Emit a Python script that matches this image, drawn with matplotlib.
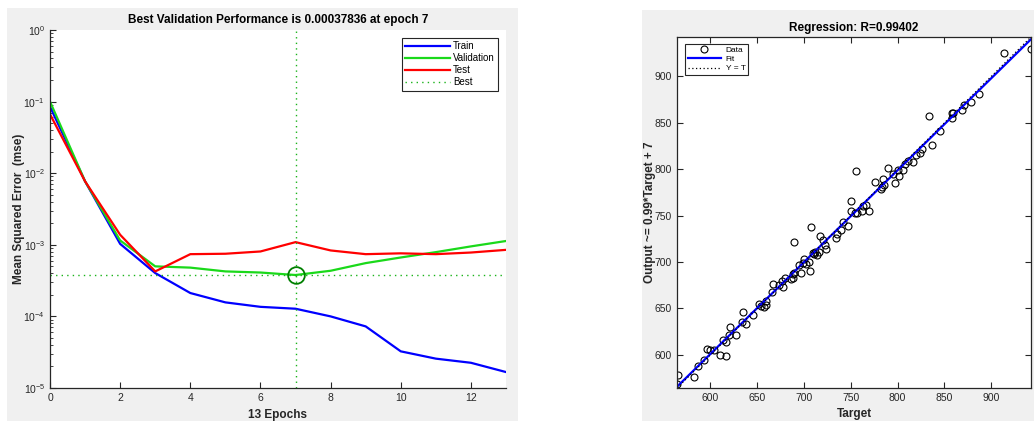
import numpy as np
import matplotlib
matplotlib.use("Agg")
import matplotlib.pyplot as plt
from matplotlib.patches import Rectangle
from matplotlib.ticker import LogLocator, NullFormatter

plt.rcParams['font.family'] = ['Liberation Sans', 'DejaVu Sans']
plt.rcParams['mathtext.fontset'] = 'custom'
plt.rcParams['mathtext.rm'] = 'Liberation Sans'

# ---------------- performance data ----------------
epochs = list(range(14))
train_mse = [0.085, 0.0077, 0.00103, 0.000403, 0.000212, 0.000157, 0.000136,
             0.000128, 0.0001, 7.25e-5, 3.25e-5, 2.57e-5, 2.25e-5, 1.67e-5]
val_mse = [0.1, 0.0077, 0.00115, 0.0005, 0.00048, 0.000425, 0.00041,
           0.00037836, 0.000434, 0.000555, 0.000665, 0.00079, 0.00095, 0.00113]
test_mse = [0.0666, 0.0077, 0.00138, 0.000425, 0.00074, 0.00075, 0.000807,
            0.00109, 0.000834, 0.00074, 0.00076, 0.00074, 0.00078, 0.00085]
best_epoch = 7
best_perf = 0.00037836

# ---------------- regression data ----------------
targets = [564.3, 565.7, 582.2, 586.4, 592.9, 596.8, 600.0, 603.6, 610.0, 617.1,
           613.6, 616.5, 620.0, 621.4, 627.1, 633.5, 635.0, 638.5, 645.0, 652.0,
           654.2, 657.0, 659.9, 659.2, 665.6, 666.4, 673.5, 676.3, 677.7, 679.9,
           686.3, 687.8, 689.2, 689.2, 696.3, 694.9, 698.4, 699.9, 702.0, 705.6,
           706.3, 707.0, 709.2, 712.0, 713.4, 717.0, 716.3, 720.6, 722.0, 723.4,
           734.1, 734.9, 739.8, 741.3, 747.0, 749.8, 750.6, 755.5, 754.8, 757.0,
           762.0, 762.7, 766.3, 769.1, 775.5, 781.9, 783.4, 784.8, 785.5, 789.8,
           794.8, 797.6, 800.5, 801.2, 805.5, 808.3, 811.2, 816.9, 819.8, 824.0,
           826.2, 834.0, 836.9, 845.4, 857.6, 858.3, 859.7, 869.0, 870.4, 878.3,
           886.8, 913.2, 942.5, 688.0, 711.0]
outputs = [569.0, 578.6, 576.5, 588.3, 594.0, 606.8, 605.0, 605.0, 600.0, 599.0,
           616.0, 613.9, 621.7, 630.2, 621.4, 635.2, 646.3, 633.1, 643.0, 655.2,
           653.0, 652.0, 653.4, 658.0, 667.3, 676.5, 675.0, 679.4, 672.6, 682.9,
           681.5, 687.2, 688.6, 721.4, 688.6, 697.2, 699.3, 703.6, 697.9, 700.0,
           690.0, 737.7, 710.0, 710.7, 707.8, 727.8, 710.7, 724.2, 718.5, 714.2,
           726.3, 729.9, 734.2, 742.7, 738.8, 766.2, 755.5, 798.2, 753.4, 753.4,
           754.8, 760.5, 761.9, 755.5, 786.1, 779.0, 781.1, 789.7, 783.2, 801.8,
           794.7, 784.7, 798.9, 793.2, 798.9, 805.3, 808.9, 807.5, 815.3, 817.4,
           821.7, 857.3, 826.0, 840.9, 855.2, 860.9, 860.9, 863.7, 868.7, 873.0,
           881.5, 925.6, 929.2, 683.0, 709.0]
fit_slope = 0.99
fit_intercept = 7.0
reg_r = 0.99402

GRAY_BG = '#f0f0f0'
TXT = '#262626'

fig = plt.figure(figsize=(10.34, 4.21), dpi=100)
fig.patch.set_facecolor('white')
W, H = 1034.0, 421.0
fig.patches.append(Rectangle((7 / W, 0), (518 - 7) / W, 1 - 8 / H, transform=fig.transFigure,
                             facecolor=GRAY_BG, edgecolor='none', zorder=-10))
fig.patches.append(Rectangle((642 / W, 0), (W - 642) / W, 1 - 10 / H, transform=fig.transFigure,
                             facecolor=GRAY_BG, edgecolor='none', zorder=-10))

# ---------- left: performance ----------
ax1 = fig.add_axes([50 / W, 1 - 388 / H, (506 - 50) / W, (388 - 30) / H])
ax1.set_facecolor('white')
ax1.semilogy(epochs, train_mse, color=(0, 0, 1), lw=1.6, label='Train')
ax1.semilogy(epochs, val_mse, color=(0.1, 0.85, 0.1), lw=1.6, label='Validation')
ax1.semilogy(epochs, test_mse, color=(1, 0, 0), lw=1.6, label='Test')
ax1.axvline(best_epoch, color=(0.1, 0.7, 0.1), ls=(0, (1, 3)), lw=1.0, label='Best')
ax1.axhline(best_perf, color=(0.1, 0.7, 0.1), ls=(0, (1, 3)), lw=1.0)
ax1.plot([best_epoch], [best_perf], 'o', mfc='none', mec=(0, 0.5, 0), ms=12, mew=1.3)
ax1.set_xlim(0, 13)
ax1.set_ylim(1e-5, 1)
ax1.set_xticks(range(0, 13, 2))
ax1.yaxis.set_major_locator(LogLocator(base=10, numticks=10))
ax1.yaxis.set_minor_locator(LogLocator(base=10, subs=np.arange(2, 10), numticks=20))
ax1.yaxis.set_minor_formatter(NullFormatter())
for s in ['top', 'right']:
    ax1.spines[s].set_visible(False)
for s in ['left', 'bottom']:
    ax1.spines[s].set_color(TXT)
    ax1.spines[s].set_linewidth(0.9)
ax1.tick_params(which='both', direction='in', colors=TXT, labelsize=7.5)
ax1.tick_params(which='major', length=4)
ax1.tick_params(which='minor', length=2)
ax1.set_title('Best Validation Performance is %.8f at epoch %d' % (best_perf, best_epoch),
              fontsize=8.5, fontweight='bold', pad=5)
ax1.set_ylabel('Mean Squared Error  (mse)', fontsize=8.5, fontweight='bold', color=TXT, labelpad=-1)
ax1.set_xlabel('%d Epochs' % (len(epochs) - 1), fontsize=8.5, fontweight='bold', color=TXT, labelpad=4.5)
leg1 = ax1.legend(loc='upper right', bbox_to_anchor=(1 - 8 / 456, 1 - 8 / 358), fontsize=7,
                  handlelength=4.6, handletextpad=0.3, borderpad=0.35, labelspacing=0.2,
                  fancybox=False, framealpha=1, edgecolor=TXT, borderaxespad=0)
leg1.get_frame().set_linewidth(0.8)

# ---------- right: regression ----------
ax2 = fig.add_axes([677 / W, 1 - 388 / H, (1031 - 677) / W, (388 - 37) / H])
ax2.set_facecolor('white')
lo = min(min(targets), min(outputs))
hi = max(max(targets), max(outputs))
ax2.plot(targets, outputs, 'o', mfc='none', mec='black', ms=5, mew=0.8, ls='none', label='Data')
xs = np.array([lo, hi])
ax2.plot(xs, fit_slope * xs + fit_intercept, color=(0, 0, 1), lw=1.6, label='Fit')
ax2.plot(xs, xs, color='black', ls=(0, (1, 2)), lw=0.9, label='Y = T')
ax2.set_xlim(lo, hi)
ax2.set_ylim(lo, hi)
ax2.set_xticks(range(600, 901, 50))
ax2.set_yticks(range(600, 901, 50))
for s in ax2.spines.values():
    s.set_color(TXT)
    s.set_linewidth(0.9)
ax2.tick_params(direction='in', colors=TXT, labelsize=7.5, length=4,
                top=True, right=True)
ax2.set_title('Regression: R=%.5f' % reg_r, fontsize=8.5, fontweight='bold', pad=4)
ax2.set_xlabel('Target', fontsize=8.5, fontweight='bold', color=TXT, labelpad=4)
ax2.set_ylabel('Output ~= %.2g*Target + %d' % (fit_slope, fit_intercept), fontsize=8.5,
               fontweight='bold', color=TXT, labelpad=-1)
leg2 = ax2.legend(loc='upper left', bbox_to_anchor=(8 / 354, 1 - 7 / 351), fontsize=6,
                  handlelength=4, handletextpad=0.6, borderpad=0.3, labelspacing=0.15,
                  fancybox=False, framealpha=1, edgecolor=TXT, borderaxespad=0)
leg2.get_frame().set_linewidth(0.8)

fig.savefig('out.png', dpi=100)
